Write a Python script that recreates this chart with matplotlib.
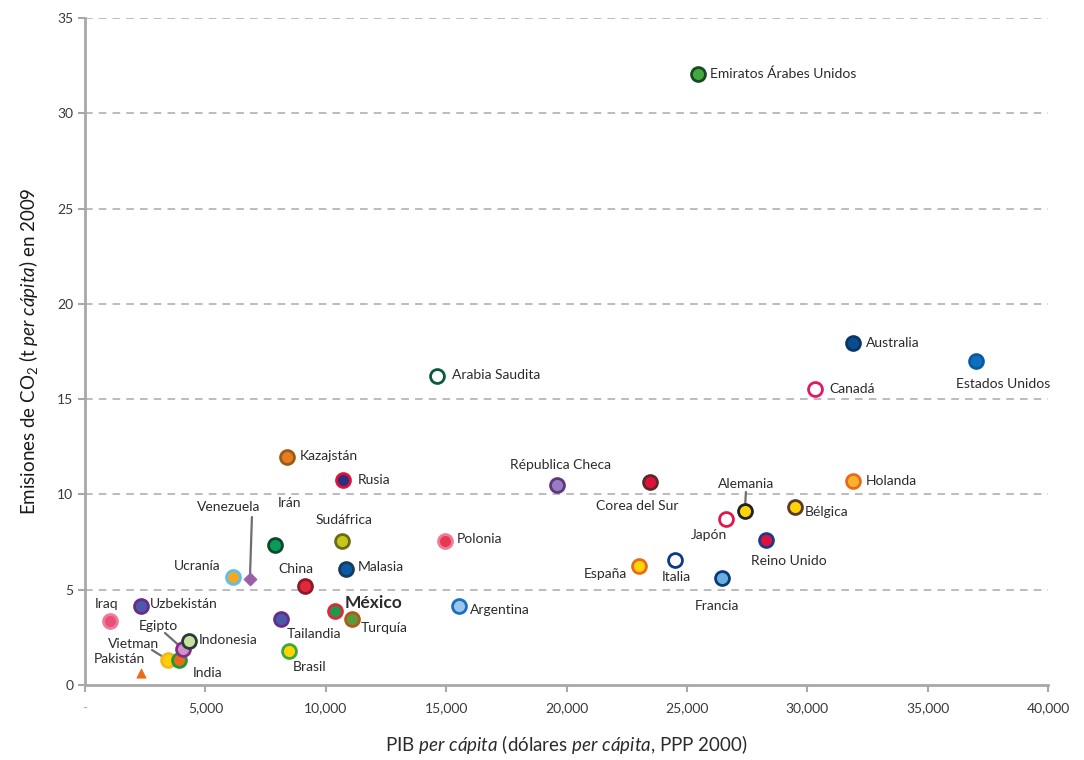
import matplotlib
matplotlib.use("Agg")
import matplotlib.pyplot as plt

# datos
paises = ["Emiratos Árabes Unidos", "Australia", "Estados Unidos", "Canadá", "Arabia Saudita",
          "Kazajstán", "Rusia", "Républica Checa", "Corea del Sur", "Holanda", "Alemania",
          "Bélgica", "Japón", "Reino Unido", "Polonia", "Sudáfrica", "Irán", "Malasia", "China",
          "Ucranía", "Venezuela", "España", "Italia", "Francia", "Argentina", "México",
          "Turquía", "Tailandia", "Uzbekistán", "Iraq", "Brasil", "Pakistán", "Vietman",
          "India", "Egipto", "Indonesia"]
pib = [25460, 31900, 37010, 30320, 14620,
       8390, 10720, 19600, 23470, 31900, 27410,
       29490, 26630, 28290, 14950, 10670, 7890, 10840, 9140,
       6150, 6850, 23010, 24510, 26460, 15530, 10380,
       11090, 8140, 2330, 1040, 8470, 2330, 3450,
       3900, 4070, 4320]
co2 = [32.06, 17.94, 17.0, 15.53, 16.21,
       11.96, 10.76, 10.49, 10.65, 10.70, 9.13,
       9.34, 8.71, 7.61, 7.55, 7.55, 7.35, 6.09, 5.19,
       5.67, 5.56, 6.24, 6.56, 5.61, 4.14, 3.88,
       3.46, 3.46, 4.14, 3.36, 1.78, 0.63, 1.31,
       1.31, 1.89, 2.31]

# estilo: relleno, borde
estilo = {
    "Emiratos Árabes Unidos": ("#45a83a", "#174a26"),
    "Australia": ("#0b4c8c", "#0a3566"),
    "Estados Unidos": ("#0e6fc0", "#0a5aa0"),
    "Canadá": ("white", "#e0186a"),
    "Arabia Saudita": ("white", "#0b5a3f"),
    "Kazajstán": ("#e87d1e", "#9a5a1a"),
    "Rusia": ("#2a2f80", "#e0103a"),
    "Républica Checa": ("#9b7bc4", "#5a3a7a"),
    "Corea del Sur": ("#e0103a", "#5a2a2a"),
    "Holanda": ("#f7b32b", "#ea6a1a"),
    "Alemania": ("#ffd400", "#222222"),
    "Bélgica": ("#ffd400", "#5a3a2a"),
    "Japón": ("white", "#e0184a"),
    "Reino Unido": ("#e0103a", "#1a3a8a"),
    "Polonia": ("#e8384f", "#f07a9a"),
    "Sudáfrica": ("#c5c81a", "#6a6a1a"),
    "Irán": ("#0a9a5a", "#0a4a2a"),
    "Malasia": ("#0a5aa8", "#1a3a5a"),
    "China": ("#e0283a", "#8a1a2a"),
    "Ucranía": ("#f5a623", "#5bc0ea"),
    "Venezuela": ("#9b5fa8", "#9b5fa8"),
    "España": ("#ffd400", "#ea6a1a"),
    "Italia": ("white", "#0a3a8a"),
    "Francia": ("#6aaee0", "#0a3a7a"),
    "Argentina": ("#9cc5e8", "#1a70c0"),
    "México": ("#1a9a4a", "#e0283a"),
    "Turquía": ("#5a9a3a", "#b05a1a"),
    "Tailandia": ("#4a5aa8", "#6a2a8a"),
    "Uzbekistán": ("#4a5aa8", "#6a2a8a"),
    "Iraq": ("#e8507a", "#f07a9a"),
    "Brasil": ("#ffd400", "#3aaa3a"),
    "Pakistán": ("#ea6a1a", "#ea6a1a"),
    "Vietman": ("#ffd000", "#f5b623"),
    "India": ("#ea6a1a", "#1a9a3a"),
    "Egipto": ("#d090c8", "#8a2a8a"),
    "Indonesia": ("#c8e0a0", "#2a3a3a"),
}
marcas = {"Venezuela": "D", "Pakistán": "^"}

# posicion de etiquetas en pixeles: dx, dy, ha
etiq = {
    "Emiratos Árabes Unidos": (12, 0, "left"), "Australia": (13, 0, "left"),
    "Estados Unidos": (27, -23, "center"), "Canadá": (14, 0, "left"),
    "Arabia Saudita": (15, 1, "left"), "Kazajstán": (13, 1, "left"),
    "Rusia": (15, 0, "left"), "Républica Checa": (4, 20, "center"),
    "Corea del Sur": (-13, -24, "center"), "Holanda": (13, 0, "left"),
    "Alemania": (1, 27, "center"), "Bélgica": (10, -5, "left"),
    "Japón": (-17, -16, "center"), "Reino Unido": (23, -21, "center"),
    "Polonia": (12, 2, "left"), "Sudáfrica": (2, 21, "center"),
    "Irán": (15, 42, "center"), "Malasia": (12, 2, "left"),
    "China": (-9, 17, "center"), "Ucranía": (-13, 11, "right"),
    "Venezuela": (-21, 72, "center"), "España": (-12, -8, "right"),
    "Italia": (1, -17, "center"), "Francia": (-5, -28, "center"),
    "Argentina": (11, -4, "left"), "México": (10, 8, "left"),
    "Turquía": (9, -9, "left"), "Tailandia": (33, -15, "center"),
    "Uzbekistán": (9, 2, "left"), "Iraq": (-3, 17, "center"),
    "Brasil": (21, -16, "center"), "Pakistán": (-22, 14, "center"),
    "Vietman": (-35, 16, "center"), "India": (14, -13, "left"),
    "Egipto": (-25, 23, "center"), "Indonesia": (10, 1, "left"),
}
# lineas guia (desde, hasta) en pixeles relativos al punto
guias = {
    "Alemania": ((1, 19), (1, 7)),
    "Venezuela": ((2, 62), (0, 5)),
    "Egipto": ((-18, 16), (-2, 2)),
    "India": ((2, -2), (12, -10)),
    "Vietman": ((-16, 10), (-3, 2)),
}

plt.rcParams['font.family'] = ['Lato', 'DejaVu Sans']
plt.rcParams['mathtext.fontset'] = 'custom'
plt.rcParams['mathtext.rm'] = 'Lato'
plt.rcParams['mathtext.it'] = 'Lato:italic'

fig = plt.figure(figsize=(10.84, 7.6), dpi=100)
ax = fig.add_axes([85 / 1084, 1 - 685 / 760, (1048 - 85) / 1084, (685 - 18) / 760])

for i, p in enumerate(paises):
    fc, ec = estilo[p]
    m = marcas.get(p, "o")
    s = 100 if m == "o" else 45
    ax.scatter(pib[i], co2[i], s=s, marker=m, facecolor=fc, edgecolor=ec,
               linewidth=2 if m == "o" else 0.5, zorder=3 + i * 0.01, clip_on=False)
    dx, dy, ha = etiq[p]
    bold = p == "México"
    ax.annotate(p, (pib[i], co2[i]), xytext=(dx, dy), textcoords="offset pixels",
                ha=ha, va="center", fontsize=12.5 if bold else 10,
                fontweight="bold" if bold else "normal", color="#2b2b2b", zorder=5)
    if p in guias:
        (x0, y0), (x1, y1) = guias[p]
        ax.annotate("", (pib[i], co2[i]), xytext=(x0, y0), textcoords="offset pixels",
                    arrowprops=dict(arrowstyle="-", color="#6e6e6e", lw=1.6,
                                    shrinkA=0, shrinkB=0,
                                    relpos=(0.5, 0.5)),
                    zorder=2)

ax.set_xlim(0, 40000)
ax.set_ylim(0, 35)
ax.set_xticks(range(0, 40001, 5000))
ax.set_xticklabels(["-"] + ["{:,}".format(v) for v in range(5000, 40001, 5000)])
ax.set_yticks(range(0, 36, 5))
for y in range(5, 36, 5):
    ax.axhline(y, color="#aaaaaa", lw=1.1, dashes=(5, 4), zorder=1)

for s in ["top", "right"]:
    ax.spines[s].set_visible(False)
for s in ["left", "bottom"]:
    ax.spines[s].set_color("#a8a8a8")
    ax.spines[s].set_linewidth(2)
ax.tick_params(axis="both", color="#a8a8a8", width=1.5, length=5, labelsize=10,
               labelcolor="#3a3a3a")
ax.tick_params(axis="x", pad=7)
ax.get_xticklabels()[0].set_color("#aaaaaa")

ax.set_xlabel(r"PIB $\it{per\ cápita}$ (dólares $\it{per\ cápita}$, PPP 2000)",
              fontsize=13.5, color="#2b2b2b", labelpad=14)
ax.set_ylabel(r"Emisiones de CO$_2$ (t $\it{per\ cápita}$) en 2009",
              fontsize=13.5, color="#1a1a1a", labelpad=12)

fig.savefig("out.png", dpi=100)
